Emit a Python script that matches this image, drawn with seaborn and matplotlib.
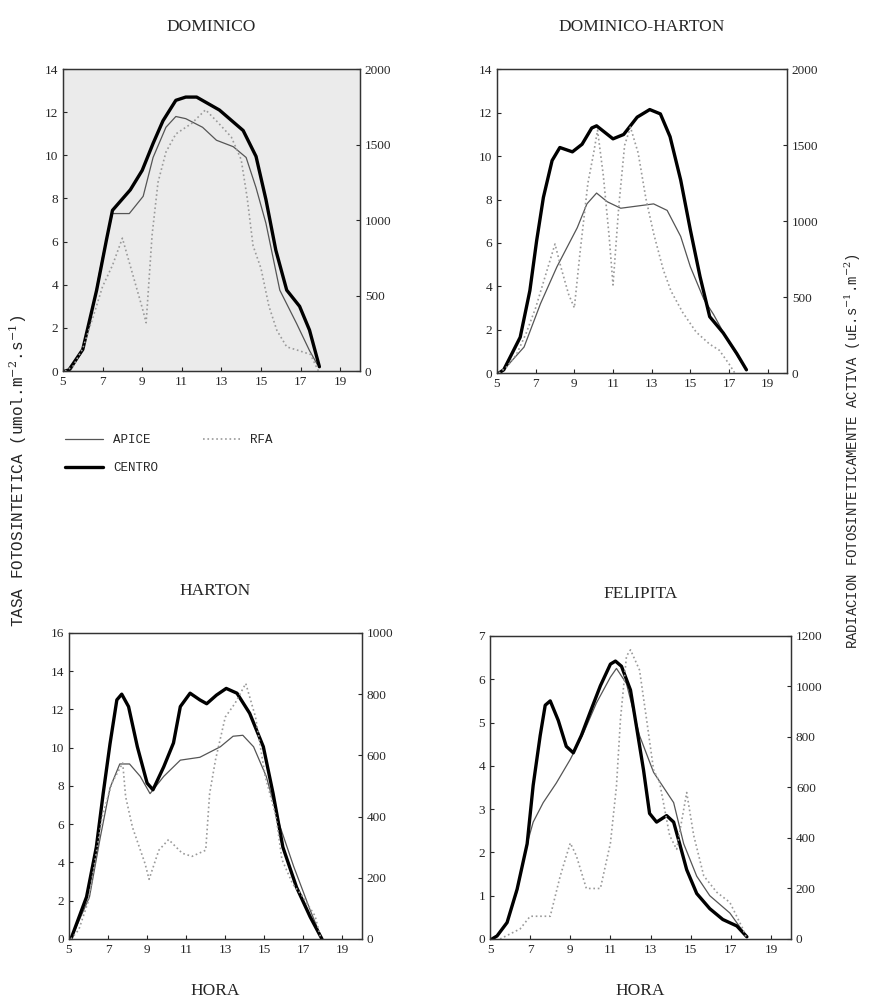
import matplotlib
matplotlib.use("Agg")
import matplotlib.pyplot as plt
import seaborn as sns

# DOMINICO
dom_centro_h = [5.1, 5.3, 6.0, 6.7, 7.2, 7.5, 8.4, 9.0, 9.55, 10.05, 10.7, 11.2, 11.75, 12.9, 14.1, 14.75, 15.25, 15.75, 16.3, 16.95, 17.45, 17.95]
dom_centro = [0.0, 0.05, 1.0, 3.75, 6.1, 7.45, 8.4, 9.3, 10.55, 11.6, 12.55, 12.7, 12.7, 12.1, 11.15, 9.95, 7.95, 5.6, 3.75, 3.0, 1.9, 0.2]
dom_apice_h = [5.1, 5.4, 5.9, 6.35, 7.0, 7.5, 8.35, 9.05, 9.55, 10.2, 10.7, 11.2, 12.05, 12.75, 13.6, 14.25, 14.75, 15.25, 15.95, 16.8, 17.45, 17.85]
dom_apice = [0.0, 0.05, 0.8, 2.2, 5.3, 7.3, 7.3, 8.1, 9.9, 11.3, 11.8, 11.7, 11.3, 10.7, 10.4, 9.9, 8.5, 6.85, 3.75, 2.2, 0.95, 0.3]
dom_rfa_h = [5.1, 5.5, 6.0, 6.5, 7.0, 7.5, 8.0, 8.5, 9.0, 9.2, 9.5, 9.8, 10.2, 10.7, 11.5, 12.2, 12.8, 13.5, 14.0, 14.3, 14.6, 15.0, 15.4, 15.8, 16.3, 16.8, 17.5, 17.9]
dom_rfa = [0, 30, 150, 350, 560, 700, 880, 650, 420, 320, 900, 1250, 1450, 1570, 1640, 1730, 1650, 1550, 1400, 1150, 830, 680, 430, 270, 160, 140, 110, 0]

# DOMINICO-HARTON
dh_centro_h = [5.1, 5.35, 6.2, 6.7, 7.05, 7.4, 7.85, 8.25, 8.9, 9.4, 9.9, 10.15, 11.0, 11.55, 12.25, 12.9, 13.45, 13.95, 14.5, 15.0, 15.5, 16.0, 16.7, 17.4, 17.9]
dh_centro = [0.0, 0.15, 1.65, 3.8, 6.1, 8.1, 9.8, 10.4, 10.2, 10.55, 11.3, 11.4, 10.8, 11.0, 11.8, 12.15, 11.95, 10.9, 8.9, 6.6, 4.45, 2.6, 1.85, 0.9, 0.15]
dh_apice_h = [5.1, 5.35, 6.4, 7.25, 8.1, 9.15, 9.65, 10.15, 10.7, 11.4, 12.25, 13.1, 13.8, 14.5, 15.0, 15.7, 16.2, 17.0, 17.9]
dh_apice = [0.0, 0.15, 1.2, 3.2, 4.9, 6.7, 7.8, 8.3, 7.9, 7.6, 7.7, 7.8, 7.5, 6.3, 4.9, 3.4, 2.7, 1.4, 0.15]
dh_rfa_h = [5.1, 5.5, 6.0, 6.5, 7.0, 7.5, 8.0, 8.3, 8.7, 9.0, 9.3, 9.7, 10.0, 10.2, 10.5, 10.8, 11.0, 11.3, 11.6, 11.9, 12.3, 12.7, 13.1, 13.6, 14.0, 14.6, 15.3, 16.0, 16.5, 17.0, 17.3]
dh_rfa = [0, 40, 120, 260, 430, 640, 850, 700, 520, 430, 800, 1250, 1450, 1600, 1300, 900, 580, 1100, 1500, 1620, 1450, 1150, 920, 680, 540, 400, 270, 190, 150, 60, 0]

# HARTON
ha_centro_h = [5.1, 5.9, 6.4, 6.75, 7.1, 7.45, 7.7, 8.05, 8.5, 9.0, 9.3, 9.85, 10.35, 10.7, 11.2, 11.7, 12.05, 12.55, 13.05, 13.6, 14.25, 14.95, 15.45, 15.95, 16.65, 17.35, 17.95]
ha_centro = [0.0, 2.2, 4.8, 7.6, 10.2, 12.5, 12.8, 12.15, 10.05, 8.15, 7.8, 9.0, 10.25, 12.15, 12.85, 12.5, 12.3, 12.75, 13.1, 12.85, 11.8, 10.05, 7.6, 4.8, 2.7, 1.15, 0.0]
ha_apice_h = [5.1, 6.05, 6.6, 7.1, 7.6, 8.1, 8.65, 9.15, 9.85, 10.7, 11.7, 12.75, 13.4, 13.9, 14.45, 15.1, 15.8, 16.5, 17.35, 17.95]
ha_apice = [0.0, 2.2, 5.3, 7.9, 9.15, 9.15, 8.5, 7.6, 8.5, 9.35, 9.5, 10.05, 10.6, 10.65, 10.05, 8.5, 5.9, 3.8, 1.5, 0.0]
ha_rfa_h = [5.1, 5.5, 6.0, 6.7, 7.2, 7.75, 7.9, 8.25, 8.9, 9.1, 9.6, 10.1, 10.8, 11.3, 12.0, 12.2, 12.5, 13.0, 13.5, 14.05, 14.55, 15.05, 15.6, 15.9, 16.45, 16.95, 17.6, 17.9]
ha_rfa = [0, 30, 125, 400, 510, 575, 465, 365, 245, 195, 290, 325, 280, 270, 290, 475, 585, 725, 770, 835, 725, 530, 400, 260, 180, 140, 75, 0]

# FELIPITA
fe_centro_h = [5.1, 5.35, 5.85, 6.35, 6.85, 7.15, 7.5, 7.75, 8.0, 8.4, 8.8, 9.15, 9.55, 10.0, 10.5, 11.0, 11.25, 11.55, 12.0, 12.3, 12.65, 12.95, 13.3, 13.8, 14.15, 14.45, 14.8, 15.3, 15.95, 16.6, 17.3, 17.8]
fe_centro = [0.0, 0.07, 0.38, 1.15, 2.2, 3.55, 4.7, 5.4, 5.5, 5.05, 4.45, 4.3, 4.7, 5.25, 5.85, 6.35, 6.42, 6.3, 5.75, 4.9, 3.9, 2.9, 2.7, 2.85, 2.7, 2.2, 1.6, 1.05, 0.7, 0.45, 0.3, 0.05]
fe_apice_h = [5.1, 5.35, 5.85, 6.35, 6.85, 7.15, 7.65, 8.3, 9.0, 9.65, 10.3, 11.0, 11.3, 11.8, 12.45, 13.15, 13.65, 14.15, 14.65, 15.3, 15.95, 16.95, 17.8]
fe_apice = [0.0, 0.07, 0.38, 1.1, 2.2, 2.7, 3.15, 3.6, 4.15, 4.75, 5.45, 6.05, 6.25, 5.9, 4.7, 3.85, 3.5, 3.15, 2.2, 1.45, 1.0, 0.6, 0.05]
fe_rfa_h = [5.5, 6.5, 7.0, 8.0, 8.5, 9.0, 9.3, 9.8, 10.5, 11.0, 11.3, 11.5, 11.8, 12.0, 12.45, 12.8, 13.15, 13.45, 13.95, 14.3, 14.8, 15.15, 15.65, 16.3, 16.95, 17.6, 17.8]
fe_rfa = [0, 40, 90, 90, 250, 380, 330, 200, 200, 380, 605, 870, 1120, 1145, 1065, 870, 670, 620, 410, 355, 580, 410, 250, 185, 145, 40, 0]

x_ticks = [5, 7, 9, 11, 13, 15, 17, 19]

panels = [
    # titulo, pos ejes, series, ylim izq, ticks izq, ylim der, ticks der, fondo
    ("DOMINICO", [0.0723, 0.6297, 0.341, 0.3014],
     (dom_centro_h, dom_centro, dom_apice_h, dom_apice, dom_rfa_h, dom_rfa),
     14, range(0, 15, 2), 2000, range(0, 2001, 500), "#ebebeb"),
    ("DOMINICO-HARTON", [0.5706, 0.6277, 0.333, 0.303],
     (dh_centro_h, dh_centro, dh_apice_h, dh_apice, dh_rfa_h, dh_rfa),
     14, range(0, 15, 2), 2000, range(0, 2001, 500), "white"),
    ("HARTON", [0.0792, 0.0629, 0.3364, 0.3054],
     (ha_centro_h, ha_centro, ha_apice_h, ha_apice, ha_rfa_h, ha_rfa),
     16, range(0, 17, 2), 1000, range(0, 1001, 200), "white"),
    ("FELIPITA", [0.5626, 0.0629, 0.3456, 0.3024],
     (fe_centro_h, fe_centro, fe_apice_h, fe_apice, fe_rfa_h, fe_rfa),
     7, range(0, 8, 1), 1200, range(0, 1201, 200), "white"),
]

sns.set_style("ticks")
plt.rcParams["font.family"] = ["Liberation Serif", "DejaVu Serif"]
plt.rcParams["mathtext.fontset"] = "dejavuserif"
plt.rcParams["lines.solid_joinstyle"] = "round"

fig = plt.figure(figsize=(8.71, 10.02), dpi=100)

for i, (title, pos, series, ymax, yt, rmax, rt, bg) in enumerate(panels):
    ch, cv, ah, av, rh, rv = series
    ax = fig.add_axes(pos)
    ax.set_facecolor(bg)
    sns.lineplot(x=ah, y=av, ax=ax, color="#555555", linewidth=0.9,
                 label="APICE" if i == 0 else None, legend=False)
    sns.lineplot(x=ch, y=cv, ax=ax, color="black", linewidth=2.4,
                 label="CENTRO" if i == 0 else None, legend=False)
    ax.set_xlim(5, 20)
    ax.set_ylim(0, ymax)
    ax.set_xticks(x_ticks)
    ax.set_yticks(list(yt))
    ax.tick_params(direction="in", labelsize=9.5, length=3, width=0.8)
    ax.set_xlabel("")
    ax.set_ylabel("")

    ax2 = ax.twinx()
    sns.lineplot(x=rh, y=rv, ax=ax2, color="#9a9a9a", linewidth=1.2,
                 linestyle=":", label="RFA" if i == 0 else None, legend=False)
    ax2.set_ylim(0, rmax)
    ax2.set_yticks(list(rt))
    ax2.tick_params(direction="in", labelsize=9.5, length=3, width=0.8)
    ax2.set_ylabel("")
    for a in (ax, ax2):
        for s in a.spines.values():
            s.set_linewidth(0.9)
            s.set_color("#333333")

    cx = pos[0] + pos[2] / 2
    top = pos[1] + pos[3]
    fig.text(cx, top + 0.042, title, ha="center", va="center", fontsize=12.5)
    if i >= 2:
        fig.text(cx, 0.011, "HORA", ha="center", va="center", fontsize=12.5)

    if i == 0:
        h1, l1 = ax.get_legend_handles_labels()
        h2, l2 = ax2.get_legend_handles_labels()
        fig.legend(h1 + h2, l1 + l2, loc="upper left",
                   bbox_to_anchor=(0.062, 0.578), ncol=2, frameon=False,
                   handlelength=3.0, columnspacing=3.6, labelspacing=1.3,
                   prop={"family": "Liberation Mono", "size": 9})

fig.text(0.021, 0.53, "TASA FOTOSINTETICA (umol.m$^{-2}$.s$^{-1}$)",
         rotation=90, ha="center", va="center", fontsize=11.5,
         family=["Liberation Mono", "DejaVu Sans Mono"])
fig.text(0.979, 0.55, "RADIACION FOTOSINTETICAMENTE ACTIVA (uE.s$^{-1}$.m$^{-2}$)",
         rotation=90, ha="center", va="center", fontsize=10,
         family=["Liberation Mono", "DejaVu Sans Mono"])

fig.savefig("out.png", dpi=100)
